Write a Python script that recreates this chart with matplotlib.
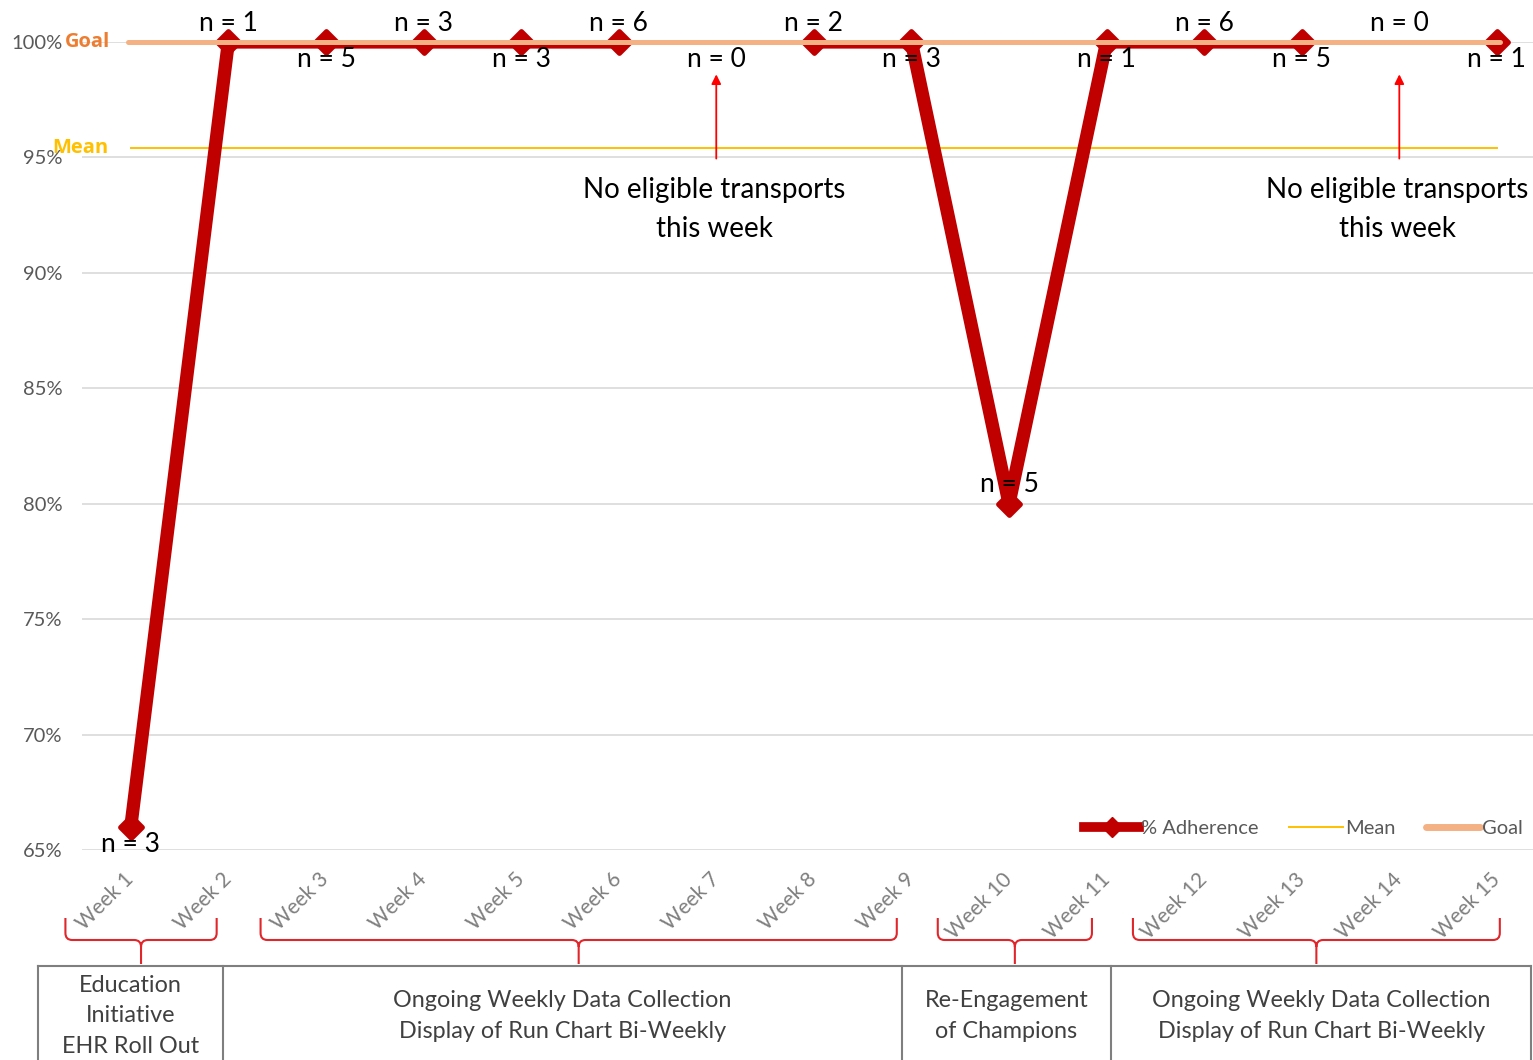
import matplotlib
matplotlib.use("Agg")
import matplotlib.pyplot as plt
import matplotlib.transforms as mtransforms
from matplotlib.path import Path
from matplotlib.patches import PathPatch
from matplotlib.lines import Line2D
from matplotlib.markers import MarkerStyle

# ---------------- data ----------------
weeks = ["Week 1", "Week 2", "Week 3", "Week 4", "Week 5", "Week 6", "Week 7", "Week 8",
         "Week 9", "Week 10", "Week 11", "Week 12", "Week 13", "Week 14", "Week 15"]
adherence = [66, 100, 100, 100, 100, 100, None, 100, 100, 80, 100, 100, 100, None, 100]
n_counts = [3, 1, 5, 3, 3, 6, 0, 2, 3, 5, 1, 6, 5, 0, 1]
label_side = ["below", "above", "below", "above", "below", "above", "below", "above",
              "below", "above", "below", "above", "below", "above", "below"]
mean_value = 95.4
goal_value = 100
no_data_weeks = [7, 14]
no_data_note = "No eligible transports\nthis week"
y_ticks = [65, 70, 75, 80, 85, 90, 95, 100]

# phase brackets (start week, end week) and phase boxes (left edge, right edge, text)
brace_spans = [(0.33, 1.88), (2.33, 8.85), (9.27, 10.85), (11.27, 15.03)]
box_edges = [0.05, 1.95, 8.90, 11.05, 15.35]
box_texts = ["Education\nInitiative\nEHR Roll Out",
             "Ongoing Weekly Data Collection\nDisplay of Run Chart Bi-Weekly",
             "Re-Engagement\nof Champions",
             "Ongoing Weekly Data Collection\nDisplay of Run Chart Bi-Weekly"]

# ---------------- style ----------------
plt.rcParams["font.family"] = ["Lato", "DejaVu Sans"]
RED = "#C00000"
GOAL_C = "#F4B183"
GOAL_TXT = "#ED7D31"
MEAN_C = "#FFC000"
GRAY_TXT = "#595959"
W, H = 1533, 1060

fig = plt.figure(figsize=(W / 100, H / 100), dpi=100)
ax = fig.add_axes([82 / W, 1 - 850 / H, (W - 82) / W, 808 / H])
ax.set_xlim(0.5, 15.37)
ax.set_ylim(65, 100)

x = list(range(1, len(weeks) + 1))
yv = [float("nan") if v is None else v for v in adherence]

ax.set_yticks(y_ticks)
ax.set_yticklabels([f"{t}%" for t in y_ticks])
ax.grid(axis="y", color="#D9D9D9", lw=1.2, zorder=0)
ax.tick_params(axis="y", length=0, pad=14, labelsize=14.5, labelcolor=GRAY_TXT)
ax.set_xticks(x)
ax.set_xticklabels(weeks, rotation=45, ha="right", va="center", rotation_mode="anchor")
ax.tick_params(axis="x", length=0, pad=19, labelsize=15, labelcolor="#7F7F7F")
for s in ax.spines.values():
    s.set_visible(False)

# adherence line (clipped at plot area) + markers (not clipped)
ax.plot(x, yv, color=RED, lw=9.5, solid_capstyle="round", solid_joinstyle="round",
        zorder=3, clip_on=True)
mk = MarkerStyle("D", joinstyle="round")
ax.plot(x, yv, ls="none", marker=mk, ms=11, color=RED, mec=RED, mew=3.5,
        zorder=4, clip_on=False)

# mean & goal
ax.plot([1, 15], [mean_value] * 2, color=MEAN_C, lw=1.4, zorder=2)
ax.plot([0.97, 15.03], [goal_value] * 2, color=GOAL_C, lw=3.6, zorder=5,
        clip_on=False, solid_capstyle="round")
ax.text(0.79, goal_value, "Goal", ha="right", va="center", color=GOAL_TXT,
        fontsize=14.5, fontweight="bold", family=["Open Sans", "DejaVu Sans"], zorder=6)
ax.text(0.77, mean_value, "Mean", ha="right", va="center", color=MEAN_C,
        fontsize=14.5, fontweight="bold", family=["Open Sans", "DejaVu Sans"], zorder=6)

# n labels
for xi, v, n, side in zip(x, adherence, n_counts, label_side):
    yy = goal_value if v is None else v
    off = 13.5 if side == "above" else -12.5
    ax.annotate(f"n = {n}", (xi, yy), xytext=(0, off), textcoords="offset points",
                ha="center", va="center", fontsize=19, color="black", zorder=7,
                annotation_clip=False)

# no-data notes
for wk in no_data_weeks:
    ax.annotate("", xy=(wk, 98.6), xytext=(wk, 94.95),
                arrowprops=dict(arrowstyle="-|>", color="#FF0000", lw=1.3,
                                mutation_scale=14, shrinkA=0, shrinkB=0))
    ax.text(wk - 0.02, 92.75, no_data_note, ha="center", va="center", fontsize=20,
            color="black", linespacing=1.62)

# legend
handles = [Line2D([], [], color=RED, lw=7, marker="D", ms=10, mec=RED),
           Line2D([], [], color=MEAN_C, lw=1.4),
           Line2D([], [], color=GOAL_C, lw=5, solid_capstyle="round")]
leg = fig.legend(handles, ["% Adherence", "Mean", "Goal"], ncol=3, frameon=False,
                 loc="center right", bbox_to_anchor=(1541 / W, 1 - 828 / H),
                 fontsize=14.5, handlelength=2.7, handletextpad=0.1,
                 columnspacing=1.5, labelcolor=GRAY_TXT)

# phase braces (x in data, y in figure pixels from top)
tr = mtransforms.blended_transform_factory(ax.transData, fig.transFigure)
def fy(p):
    return 1 - p / H
yt, yh, yb = 918, 940, 964
rx, ry = 0.07, 7
for x0, x1 in brace_spans:
    xm = (x0 + x1) / 2
    verts = [(x0, fy(yt)), (x0, fy(yh - ry)), (x0, fy(yh)), (x0 + rx, fy(yh)),
             (xm - rx, fy(yh)), (xm, fy(yh)), (xm, fy(yh + ry)), (xm, fy(yb)),
             (xm, fy(yh + ry)), (xm, fy(yh)), (xm + rx, fy(yh)),
             (x1 - rx, fy(yh)), (x1, fy(yh)), (x1, fy(yh - ry)), (x1, fy(yt))]
    codes = [Path.MOVETO, Path.LINETO, Path.CURVE3, Path.CURVE3,
             Path.LINETO, Path.CURVE3, Path.CURVE3, Path.LINETO,
             Path.MOVETO, Path.CURVE3, Path.CURVE3,
             Path.LINETO, Path.CURVE3, Path.CURVE3, Path.LINETO]
    fig.add_artist(PathPatch(Path(verts, codes), transform=tr, fill=False,
                             edgecolor="#E0262B", lw=1.5, clip_on=False))

# phase boxes
box_top = fy(966)
box_col = "#7F7F7F"
fig.add_artist(Line2D([box_edges[0], box_edges[-1]], [box_top, box_top], transform=tr,
                      color=box_col, lw=1.5, clip_on=False))
for e in box_edges:
    fig.add_artist(Line2D([e, e], [box_top, -0.05], transform=tr, color=box_col,
                          lw=1.5, clip_on=False))
for i, t in enumerate(box_texts):
    cx = (box_edges[i] + box_edges[i + 1]) / 2
    cy = fy(1016)
    fig.text(cx, cy, t, transform=tr, ha="center", va="center", fontsize=16.8,
             color="#404040", linespacing=1.53)

fig.savefig("out.png", dpi=100)
